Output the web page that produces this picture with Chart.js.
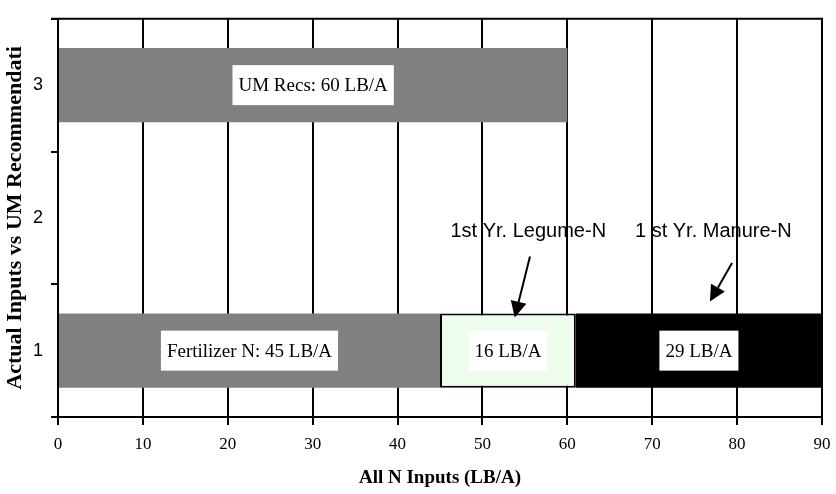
<!DOCTYPE html>
<html>
<head>
<meta charset="utf-8">
<script src="https://cdn.jsdelivr.net/npm/chart.js@4.4.1/dist/chart.umd.min.js"></script>
<style>
  html, body { margin: 0; padding: 0; background: #fff; }
  #wrap { position: relative; width: 836px; height: 494px; }
</style>
</head>
<body>
<div id="wrap"><canvas id="chart"></canvas></div>
<script>
// data
const categories = ["1", "2", "3"];
const fertilizerN = [45, 0, 0];
const legumeN = [16, 0, 0];
const manureN = [29, 0, 0];
const umRecs = [0, 0, 60];

// callouts, in data units (x = LB/A, y = category value)
const callouts = [
  { text: "1st Yr. Legume-N", tx: 55.4, ty: 1.9, from: [55.6, 1.71], to: [53.8, 1.25] },
  { text: "1 st Yr. Manure-N", tx: 77.2, ty: 1.9, from: [79.4, 1.66], to: [76.8, 1.37] }
];

const SERIF = "'Liberation Serif', 'Times New Roman', serif";
const SANS = "'Liberation Sans', Arial, sans-serif";

const barLabelPlugin = {
  id: "barLabels",
  afterDatasetsDraw(chart) {
    const ctx = chart.ctx;
    ctx.save();
    ctx.font = "19px " + SERIF;
    ctx.textAlign = "center";
    ctx.textBaseline = "middle";
    chart.data.datasets.forEach((ds, di) => {
      const meta = chart.getDatasetMeta(di);
      meta.data.forEach((bar, i) => {
        const v = ds.data[i];
        if (!v) return;
        const txt = ds.labelFmt(v);
        const cx = (bar.x + bar.base) / 2;
        const cy = bar.y;
        const w = ctx.measureText(txt).width + 12;
        const h = 40;
        ctx.fillStyle = "#fff";
        ctx.fillRect(cx - w / 2, cy - h / 2, w, h);
        ctx.fillStyle = "#000";
        ctx.fillText(txt, cx, cy + 1);
      });
    });
    ctx.restore();
  }
};

const extrasPlugin = {
  id: "extras",
  afterDraw(chart) {
    const ctx = chart.ctx;
    const xs = chart.scales.x, ys = chart.scales.y;
    const px = v => xs.getPixelForValue(v);
    const py = v => ys.getPixelForValue(v - 1);
    const a = chart.chartArea;
    ctx.save();
    // top frame line
    ctx.strokeStyle = "#000";
    ctx.lineWidth = 2;
    ctx.beginPath();
    ctx.moveTo(a.left - 7, a.top);
    ctx.lineTo(a.right + 1, a.top);
    ctx.stroke();

    ctx.font = "20px " + SANS;
    ctx.textAlign = "center";
    ctx.textBaseline = "middle";
    callouts.forEach(c => {
      ctx.fillStyle = "#000";
      ctx.fillText(c.text, px(c.tx), py(c.ty));
      const x1 = px(c.from[0]), y1 = py(c.from[1]);
      const x2 = px(c.to[0]), y2 = py(c.to[1]);
      const ang = Math.atan2(y2 - y1, x2 - x1);
      const hl = 16, hw = 8;
      const bx = x2 - hl * Math.cos(ang), by = y2 - hl * Math.sin(ang);
      ctx.beginPath();
      ctx.moveTo(x1, y1);
      ctx.lineTo(bx, by);
      ctx.stroke();
      ctx.beginPath();
      ctx.moveTo(x2, y2);
      ctx.lineTo(bx + hw * Math.sin(ang), by - hw * Math.cos(ang));
      ctx.lineTo(bx - hw * Math.sin(ang), by + hw * Math.cos(ang));
      ctx.closePath();
      ctx.fill();
    });
    ctx.restore();
  }
};

new Chart(document.getElementById("chart"), {
  type: "bar",
  data: {
    labels: categories,
    datasets: [
      { label: "Fertilizer N", data: fertilizerN, backgroundColor: "#808080",
        labelFmt: v => `Fertilizer N: ${v} LB/A` },
      { label: "1st Yr. Legume-N", data: legumeN, backgroundColor: "#eefcee",
        borderColor: "#000", borderWidth: 2, borderSkipped: false,
        labelFmt: v => `${v} LB/A` },
      { label: "1 st Yr. Manure-N", data: manureN, backgroundColor: "#000",
        labelFmt: v => `${v} LB/A` },
      { label: "UM Recs", data: umRecs, backgroundColor: "#808080",
        labelFmt: v => `UM Recs: ${v} LB/A` }
    ]
  },
  options: {
    indexAxis: "y",
    responsive: true,
    maintainAspectRatio: false,
    animation: false,
    events: [],
    layout: { padding: { top: 14, right: 14, left: 0, bottom: 0 } },
    datasets: { bar: { barPercentage: 0.56, categoryPercentage: 1 } },
    plugins: { legend: { display: false }, tooltip: { enabled: false } },
    scales: {
      x: {
        stacked: true,
        min: 0,
        max: 90,
        ticks: { stepSize: 10, color: "#000", padding: 9, font: { family: SERIF, size: 17 } },
        grid: { color: "#000", lineWidth: 2, tickLength: 8 },
        border: { display: true, color: "#000", width: 2 },
        title: { display: true, text: "All N Inputs (LB/A)", color: "#000",
          font: { family: SERIF, size: 19, weight: "bold" }, padding: { top: 0, bottom: 5 } },
        afterFit: s => { s.height = 77; s.paddingLeft = 0; s.paddingRight = 0; }
      },
      y: {
        stacked: true,
        reverse: true,
        ticks: { color: "#000", padding: 8, font: { family: SANS, size: 18 } },
        grid: { drawOnChartArea: false, drawTicks: true, tickLength: 7, color: "#000", lineWidth: 2, offset: true },
        border: { display: false },
        title: { display: true, text: "Actual Inputs vs UM Recommendati", color: "#000",
          font: { family: SERIF, size: 22, weight: "bold" }, padding: { top: 2, bottom: 0 } },
        afterFit: s => { s.width = 58; }
      }
    }
  },
  plugins: [barLabelPlugin, extrasPlugin]
});
</script>
</body>
</html>
